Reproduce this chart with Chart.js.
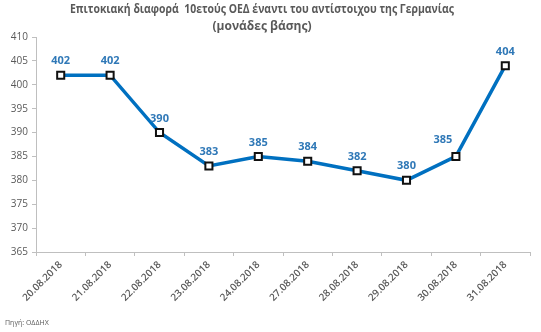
<!DOCTYPE html>
<html>
<head>
<meta charset="utf-8">
<script src="https://cdn.jsdelivr.net/npm/chart.js@4"></script>
<style>
  html, body { margin: 0; padding: 0; background: #fff; }
  #wrap { width: 541px; height: 332px; position: relative; }
</style>
</head>
<body>
<div id="wrap"><canvas id="chart"></canvas></div>
<script>
"use strict";

const dates = ['20.08.2018', '21.08.2018', '22.08.2018', '23.08.2018', '24.08.2018',
               '27.08.2018', '28.08.2018', '29.08.2018', '30.08.2018', '31.08.2018'];
const spread = [402, 402, 390, 383, 385, 384, 382, 380, 385, 404];
const yMin = 365, yMax = 410, yStep = 5;
const titleLines = ['Επιτοκιακή διαφορά  10ετούς ΟΕΔ έναντι του αντίστοιχου της Γερμανίας', '(μονάδες βάσης)'];
const sourceText = 'Πηγή: ΟΔΔΗΧ';

const FONT = '"Open Sans", "Noto Sans", sans-serif';
const GREY = '#595959';
const BLUE = '#0070C0';

// title, value labels and source note drawn straight on the canvas
const extras = {
  id: 'extras',
  afterDatasetsDraw(chart) {
    const ctx = chart.ctx;
    const meta = chart.getDatasetMeta(0);
    ctx.save();
    ctx.font = 'bold 11px ' + FONT;
    ctx.fillStyle = '#2F78B7';
    ctx.textAlign = 'center';
    ctx.textBaseline = 'middle';
    meta.data.forEach((pt, i) => {
      // the label of a rising point sits up-left so the line stays clear
      const rising = i < spread.length - 1 && spread[i + 1] > spread[i] + 5;
      ctx.fillText(String(spread[i]), pt.x - (rising ? 13 : 0), pt.y - (rising ? 17 : 14));
    });
    ctx.restore();
  },
  afterDraw(chart) {
    const ctx = chart.ctx;
    ctx.save();
    ctx.fillStyle = GREY;
    ctx.textAlign = 'center';
    ctx.textBaseline = 'middle';
    ctx.font = 'bold 12px ' + FONT;
    ctx.fillText(titleLines[0], 262, 10, 384);
    ctx.fillText(titleLines[1], 262, 27, 384);
    ctx.textAlign = 'left';
    ctx.font = '7px ' + FONT;
    ctx.fillText(sourceText, 5, 323);
    ctx.restore();
  }
};

new Chart(document.getElementById('chart'), {
  type: 'line',
  data: {
    labels: dates,
    datasets: [{
      data: spread,
      borderColor: BLUE,
      borderWidth: 3.5,
      pointStyle: 'rect',
      pointRadius: 5,
      pointBackgroundColor: '#fff',
      pointBorderColor: '#111',
      pointBorderWidth: 2,
      tension: 0
    }]
  },
  options: {
    responsive: true,
    maintainAspectRatio: false,
    animation: false,
    layout: { padding: { top: 37, right: 11, bottom: 0, left: 0 } },
    plugins: { legend: { display: false }, tooltip: { enabled: false } },
    scales: {
      x: {
        offset: true,
        grid: { display: true, drawOnChartArea: false, offset: true, tickLength: 4, color: '#BFBFBF' },
        border: { color: '#BFBFBF' },
        ticks: {
          color: GREY,
          font: { family: FONT, size: 10, weight: '600' },
          minRotation: 45,
          maxRotation: 45,
          padding: 3
        },
        afterFit(scale) { scale.height = 80; }
      },
      y: {
        min: yMin,
        max: yMax,
        grid: { display: true, drawOnChartArea: false, tickLength: 4, color: '#BFBFBF' },
        border: { color: '#BFBFBF' },
        ticks: {
          stepSize: yStep,
          color: GREY,
          font: { family: FONT, size: 10 },
          padding: 4
        },
        afterFit(scale) { scale.width = 36; }
      }
    }
  },
  plugins: [extras]
});
</script>
</body>
</html>
